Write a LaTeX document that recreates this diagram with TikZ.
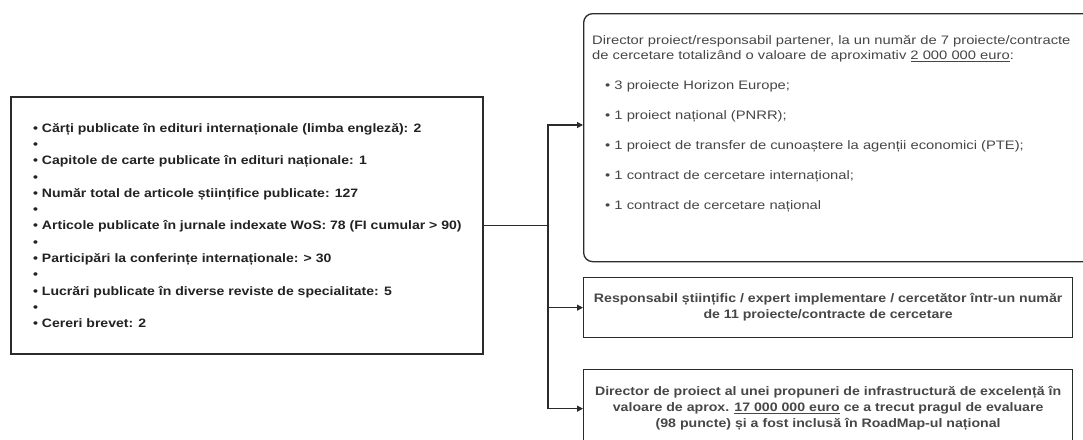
\documentclass[tikz,border=0pt]{standalone}
\usepackage{fontspec}
\setmainfont{Liberation Sans}
\newfontfamily\leftfont[FakeStretch=1.15]{Liberation Sans Bold}
\newfontfamily\rightfont[FakeStretch=1.2]{Liberation Sans}
\newfontfamily\boxfont[FakeStretch=1.15]{Liberation Sans Bold}
\usetikzlibrary{arrows.meta}
\definecolor{ink}{HTML}{2B2B2B}
\definecolor{txtdark}{HTML}{222222}
\definecolor{txtgray}{HTML}{474747}
\begin{document}
\begin{tikzpicture}[x=1pt,y=-1pt,
  frame/.style={draw=ink, line width=1.3pt, inner sep=0pt},
  conn/.style={draw=ink, line width=1.1pt},
  arr/.style={conn, -{Triangle[length=6pt,width=6pt]}},
  pubfont/.style={font=\leftfont\fontsize{12.2}{16.33}\selectfont, text=txtdark},
  leadfont/.style={font=\rightfont\fontsize{12.3}{15}\selectfont, text=txtgray},
  boxtext/.style={font=\boxfont\fontsize{12.3}{16}\selectfont, text=txtgray, align=center}
]
\useasboundingbox (0,0) rectangle (1083,439);
\clip (0,0) rectangle (1083,439);
\fill[white] (0,0) rectangle (1083,439);

% left box
\node[frame, minimum width=472pt, minimum height=257pt] (pub) at (247,225.5) {};
\node[pubfont, anchor=west, inner sep=0pt, align=left] (pubtext) at (33,225.5)
{• Cărți publicate în edituri internaționale (limba engleză): 2\\
•\\
• Capitole de carte publicate în edituri naționale: 1\\
•\\
• Număr total de articole științifice publicate: 127\\
•\\
• Articole publicate în jurnale indexate WoS: 78 (FI cumular > 90)\\
•\\
• Participări la conferințe internaționale: > 30\\
•\\
• Lucrări publicate în diverse reviste de specialitate: 5\\
•\\
• Cereri brevet: 2};

% top right box
\node[frame, rounded corners=9pt, minimum width=520pt, minimum height=248pt, anchor=north west] (lead) at (583,13) {};
\node[leadfont, anchor=north west, inner sep=0pt, align=left] (leadtext) at (592,35)
{Director proiect/responsabil partener, la un număr de 7 proiecte/contracte\\
de cercetare totalizând o valoare de aproximativ \underline{2 000 000 euro}:\\[15pt]
\hspace*{13pt}• 3 proiecte Horizon Europe;\\[15pt]
\hspace*{13pt}• 1 proiect național (PNRR);\\[15pt]
\hspace*{13pt}• 1 proiect de transfer de cunoaștere la agenții economici (PTE);\\[15pt]
\hspace*{13pt}• 1 contract de cercetare internațional;\\[15pt]
\hspace*{13pt}• 1 contract de cercetare național};

% middle right box
\node[frame, boxtext, minimum width=489pt, minimum height=60pt, anchor=north west] (resp) at (583,277)
{Responsabil științific / expert implementare / cercetător într-un număr\\
de 11 proiecte/contracte de cercetare};

% bottom right box
\node[frame, boxtext, minimum width=489pt, minimum height=78pt, anchor=north west] (prop) at (583,369)
{Director de proiect al unei propuneri de infrastructură de excelență în\\
valoare de aprox. \underline{17 000 000 euro} ce a trecut pragul de evaluare\\
(98 puncte) și a fost inclusă în RoadMap-ul național};

% connectors
\coordinate (bus) at (548,225.5);
\coordinate (leadin) at (583,125);
\draw[conn] (pub.east) -- (bus);
\draw[arr] (bus) |- (leadin);
\draw[arr] (bus) |- (resp.west);
\draw[arr] (bus) |- (prop.west);
\end{tikzpicture}
\end{document}
